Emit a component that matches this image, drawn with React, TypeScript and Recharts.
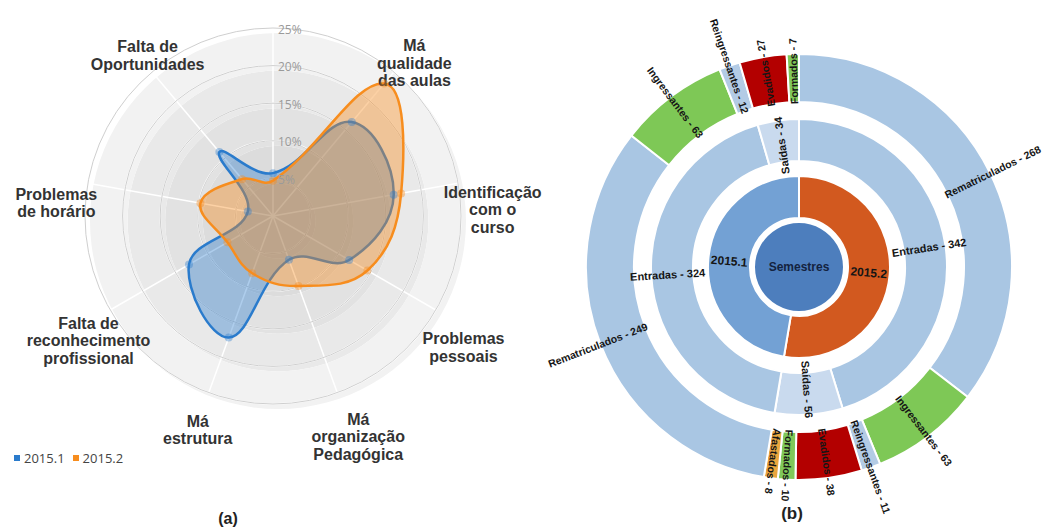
import React from 'react'
import {
  RadarChart, Radar, PolarGrid, PolarAngleAxis, PolarRadiusAxis,
  PieChart, Pie, Cell,
} from 'recharts'

// ---- radar (a) data, clockwise from the top spoke ----
const CATEGORIES = [
  '',
  'Má\nqualidade\ndas aulas',
  'Identificação\ncom o\ncurso',
  'Problemas\npessoais',
  'Má\norganização\nPedagógica',
  'Má\nestrutura',
  'Falta de\nreconhecimento\nprofissional',
  'Problemas\nde horário',
  'Falta de\nOportunidades',
]
const SERIES_2015_1 = [5.7, 16.3, 16.3, 11.7, 6.2, 17.2, 12.9, 3.4, 11.1]
const SERIES_2015_2 = [4.7, 23.0, 17.3, 14.5, 9.9, 8.1, 7.0, 9.8, 6.4]
const RADIUS_TICKS = [0, 5, 10, 15, 20, 25]
const SERIES_NAMES = ['2015.1', '2015.2']

// ---- sunburst (b) data ----
const SEMESTERS = ['2015.2', '2015.1']
const FLOWS = ['Entradas', 'Saídas']
const ENTRADAS_CATS = ['Rematriculados', 'Ingressantes', 'Reingressantes']
const SAIDAS_CATS = ['Evadidos', 'Formados', 'Afastados']
const ENTRADAS_2015_2 = [268, 63, 11]
const SAIDAS_2015_2 = [38, 10, 8]
const ENTRADAS_2015_1 = [249, 63, 12]
const SAIDAS_2015_1 = [27, 7, 0]

const BLUE = '#2a7bcc'
const ORANGE = '#f78d1e'
const BAND_FILLS = ['#d8d8d8', '#dcdcdc', '#e2e2e2', '#e9e9e9', '#f2f2f2']

// small per-label shifts (x, y) of the category labels around the radar
const LABEL_NUDGE = [[0, 0], [0, 8], [3, 7], [0, 0], [10, 0], [0, -7], [6, -7], [0, 0], [16, 0]]

const LEAF_COLORS: Record<string, string> = {
  Rematriculados: '#a9c6e3',
  Ingressantes: '#7ec856',
  Reingressantes: '#b3cbe5',
  Evadidos: '#b30000',
  Formados: '#80c859',
  Afastados: '#e9a63f',
}
const FLOW_COLORS: Record<string, string> = { Entradas: '#a9c6e3', 'Saídas': '#c9daee' }
const SEMESTER_COLORS: Record<string, string> = { '2015.2': '#d2591f', '2015.1': '#73a1d4' }

// radar geometry
const R_CX = 273
const R_CY = 216
const R_OUT = 188
const R_MAX = RADIUS_TICKS[RADIUS_TICKS.length - 1]

// sunburst geometry
const SB_LEFT = 470
const SB_CX = 794 - SB_LEFT
const SB_CY = 262

const radarData = CATEGORIES.map((name, i) => ({
  name,
  s1: SERIES_2015_1[i],
  s2: SERIES_2015_2[i],
}))

const sum = (a: number[]) => a.reduce((s, v) => s + v, 0)
const semesterParts = [
  { entradas: ENTRADAS_2015_2, saidas: SAIDAS_2015_2 },
  { entradas: ENTRADAS_2015_1, saidas: SAIDAS_2015_1 },
]
const ring2 = SEMESTERS.map((name, i) => ({
  name,
  value: sum(semesterParts[i].entradas) + sum(semesterParts[i].saidas),
}))
const ring3 = SEMESTERS.flatMap((_, i) => [
  { name: FLOWS[0], value: sum(semesterParts[i].entradas) },
  { name: FLOWS[1], value: sum(semesterParts[i].saidas) },
])
const ring4 = SEMESTERS.flatMap((_, i) => [
  ...ENTRADAS_CATS.map((name, j) => ({ name, value: semesterParts[i].entradas[j] })),
  ...SAIDAS_CATS.map((name, j) => ({ name, value: semesterParts[i].saidas[j] })),
]).filter(d => d.value > 0)
const ring1 = [{ name: 'Semestres', value: sum(ring2.map(d => d.value)) }]

// closed spline through the radar points (Chart.js style tension)
function smoothPath(pts: { x: number; y: number }[], t = 0.4) {
  const n = pts.length
  if (!n) return ''
  const cps = pts.map((cur, i) => {
    const prev = pts[(i - 1 + n) % n]
    const next = pts[(i + 1) % n]
    const d01 = Math.hypot(cur.x - prev.x, cur.y - prev.y)
    const d12 = Math.hypot(next.x - cur.x, next.y - cur.y)
    const tot = d01 + d12 || 1
    const fa = (t * d01) / tot
    const fb = (t * d12) / tot
    return {
      px: cur.x - fa * (next.x - prev.x),
      py: cur.y - fa * (next.y - prev.y),
      nx: cur.x + fb * (next.x - prev.x),
      ny: cur.y + fb * (next.y - prev.y),
    }
  })
  let d = `M${pts[0].x},${pts[0].y}`
  for (let i = 0; i < n; i++) {
    const j = (i + 1) % n
    d += ` C${cps[i].nx},${cps[i].ny} ${cps[j].px},${cps[j].py} ${pts[j].x},${pts[j].y}`
  }
  return d + ' Z'
}

// eslint-disable-next-line @typescript-eslint/no-explicit-any
function SmoothRadarShape(props: any) {
  return (
    <path
      d={smoothPath(props.points || [])}
      fill={props.fill}
      fillOpacity={props.fillOpacity}
      stroke={props.stroke}
      strokeWidth={props.strokeWidth}
      strokeLinejoin="round"
    />
  )
}

// eslint-disable-next-line @typescript-eslint/no-explicit-any
function AngleTick(props: any) {
  const label: string = props.payload?.value ?? ''
  if (!label) return <g />
  const idx = CATEGORIES.indexOf(label)
  const [nx, ny] = LABEL_NUDGE[idx] || [0, 0]
  const deg = 90 - props.payload.coordinate
  const th = (deg * Math.PI) / 180
  const s = Math.sin(th)
  const c = Math.cos(th)
  const x = R_CX + 220 * s + nx
  const y = R_CY - (c > 0 ? 249 : 203) * c + 30 + ny
  const lines = label.split('\n')
  const lh = 17.5
  const y0 = y - ((lines.length - 1) * lh) / 2
  return (
    <text
      x={x}
      y={y0}
      textAnchor="middle"
      fontFamily="'Liberation Sans', Arial, sans-serif"
      fontWeight="bold"
      fontSize={16}
      fill="#333"
    >
      {lines.map((ln, i) => (
        <tspan key={i} x={x} y={y0 + i * lh} dominantBaseline="central">{ln}</tspan>
      ))}
    </text>
  )
}

// eslint-disable-next-line @typescript-eslint/no-explicit-any
function RadiusTick(props: any) {
  const v = props.payload?.value
  if (!v) return <g />
  return (
    <text x={props.x + 5} y={props.y + 1} dominantBaseline="central" fontSize={12}
      fontFamily="'Open Sans', sans-serif" fill="#9a9a9a">
      {v}%
    </text>
  )
}

const RAD = Math.PI / 180

// radial labels for the sunburst rings
function radialLabel(offset: number, centered: boolean, size: number) {
  // eslint-disable-next-line @typescript-eslint/no-explicit-any
  return (p: any) => {
    const name = p.name ?? p.payload?.name
    const value = p.value ?? p.payload?.value
    const compass = (((90 - p.midAngle) % 360) + 360) % 360
    const inward = compass > 195 && compass < 345
    const r = centered ? (p.innerRadius + p.outerRadius) / 2 : p.innerRadius - offset
    const x = p.cx + r * Math.cos(-p.midAngle * RAD)
    const y = p.cy + r * Math.sin(-p.midAngle * RAD)
    const rot = inward ? -p.midAngle + 180 : -p.midAngle
    return (
      <text
        x={x}
        y={y}
        transform={`rotate(${rot}, ${x}, ${y})`}
        textAnchor={centered ? 'middle' : inward ? 'end' : 'start'}
        dominantBaseline="central"
        fontFamily="'Liberation Sans', Arial, sans-serif"
        fontWeight="bold"
        fontSize={size}
        fill="#151515"
      >
        {centered ? name : `${name} - ${value}`}
      </text>
    )
  }
}

// eslint-disable-next-line @typescript-eslint/no-explicit-any
const centerLabel = (p: any) => (
  <text x={p.cx} y={p.cy} textAnchor="middle" dominantBaseline="central"
    fontFamily="'Liberation Sans', Arial, sans-serif" fontWeight="bold" fontSize={12} fill="#14233f">
    {p.name ?? p.payload?.name}
  </text>
)

export default function App() {
  const bands = RADIUS_TICKS.slice(1).map((t, i) => ({
    inner: (RADIUS_TICKS[i] / R_MAX) * R_OUT,
    outer: (t / R_MAX) * R_OUT,
    fill: BAND_FILLS[i],
  }))

  return (
    <div style={{ position: 'absolute', left: 0, top: 0, width: 1043, height: 529, background: '#fff', overflow: 'hidden' }}>
      {/* background bands of the radar */}
      <div style={{ position: 'absolute', left: 0, top: 0 }}>
        <PieChart width={560} height={529}>
          {bands.map((b, i) => (
            <Pie key={i} data={[{ name: 'band', value: 1 }]} dataKey="value" cx={R_CX} cy={R_CY}
              innerRadius={b.inner} outerRadius={b.outer} startAngle={90} endAngle={-270}
              fill={b.fill} stroke="none" isAnimationActive={false} />
          ))}
        </PieChart>
      </div>

      <div style={{ position: 'absolute', left: 0, top: 0 }}>
        <RadarChart width={560} height={529} cx={R_CX} cy={R_CY} outerRadius={R_OUT} data={radarData}>
          <PolarGrid gridType="circle" stroke="#ffffff" strokeWidth={1.5} />
          <PolarGrid gridType="circle" radialLines={false} stroke="#cfcfcf" strokeWidth={1} />
          <PolarAngleAxis dataKey="name" tick={AngleTick} tickLine={false} axisLine={false} />
          <PolarRadiusAxis angle={90} domain={[0, R_MAX]} ticks={RADIUS_TICKS} tickCount={6}
            axisLine={false} tickLine={false} tick={RadiusTick} />
          <Radar name={SERIES_NAMES[0]} dataKey="s1" stroke={BLUE} fill={BLUE} fillOpacity={0.38}
            strokeWidth={2.5} shape={SmoothRadarShape}
            dot={{ r: 4, fill: BLUE, stroke: 'none' }} isAnimationActive={false} />
          <Radar name={SERIES_NAMES[1]} dataKey="s2" stroke={ORANGE} fill={ORANGE} fillOpacity={0.4}
            strokeWidth={2.5} shape={SmoothRadarShape}
            dot={{ r: 4, fill: ORANGE, stroke: 'none' }} isAnimationActive={false} />
        </RadarChart>
      </div>

      {/* legend */}
      <div style={{ position: 'absolute', left: 14, top: 449, display: 'flex', alignItems: 'center',
        fontFamily: "'Open Sans', sans-serif", fontSize: 13, color: '#444' }}>
        {SERIES_NAMES.map((n, i) => (
          <span key={n} style={{ display: 'flex', alignItems: 'center', marginRight: 8 }}>
            <span style={{ width: 6, height: 6, background: i ? ORANGE : BLUE, marginRight: 4, display: 'inline-block' }} />
            {n}
          </span>
        ))}
      </div>

      {/* sunburst */}
      <div style={{ position: 'absolute', left: SB_LEFT, top: 0 }}>
        <PieChart width={1043 - SB_LEFT} height={529}>
          <Pie data={ring4} dataKey="value" nameKey="name" cx={SB_CX} cy={SB_CY} innerRadius={165} outerRadius={213}
            startAngle={90} endAngle={-270} stroke="#fff" strokeWidth={2} isAnimationActive={false}
            labelLine={false} label={radialLabel(2, false, 10.5)}>
            {ring4.map((d, i) => <Cell key={i} fill={LEAF_COLORS[d.name]} />)}
          </Pie>
          <Pie data={ring3} dataKey="value" nameKey="name" cx={SB_CX} cy={SB_CY} innerRadius={106} outerRadius={148}
            startAngle={90} endAngle={-270} stroke="#fff" strokeWidth={2} isAnimationActive={false}
            labelLine={false} label={radialLabel(12, false, 11)}>
            {ring3.map((d, i) => <Cell key={i} fill={FLOW_COLORS[d.name]} />)}
          </Pie>
          <Pie data={ring2} dataKey="value" nameKey="name" cx={SB_CX} cy={SB_CY} innerRadius={49} outerRadius={91}
            startAngle={90} endAngle={-270} stroke="#fff" strokeWidth={2} isAnimationActive={false}
            labelLine={false} label={radialLabel(0, true, 12)}>
            {ring2.map((d, i) => <Cell key={i} fill={SEMESTER_COLORS[d.name]} />)}
          </Pie>
          <Pie data={ring1} dataKey="value" nameKey="name" cx={SB_CX} cy={SB_CY} innerRadius={0} outerRadius={44}
            startAngle={90} endAngle={-270} stroke="none" fill="#4d7ebd" isAnimationActive={false}
            labelLine={false} label={centerLabel} />
        </PieChart>
      </div>

      <div style={{ position: 'absolute', left: 228, top: 519, transform: 'translate(-50%, -50%)',
        fontFamily: "'Liberation Sans', Arial, sans-serif", fontWeight: 'bold', fontSize: 16, color: '#222' }}>(a)</div>
      <div style={{ position: 'absolute', left: 792, top: 514, transform: 'translate(-50%, -50%)',
        fontFamily: "'Liberation Sans', Arial, sans-serif", fontWeight: 'bold', fontSize: 17, color: '#222' }}>(b)</div>
    </div>
  )
}
